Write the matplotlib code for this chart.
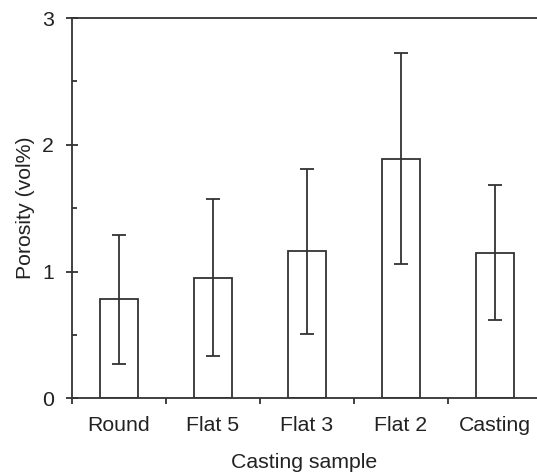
import matplotlib.pyplot as plt
import numpy as np

# porosity per casting sample
samples = ['Round', 'Flat 5', 'Flat 3', 'Flat 2', 'Casting']
porosity = [0.78, 0.95, 1.16, 1.89, 1.15]
porosity_err = [0.51, 0.62, 0.65, 0.83, 0.53]

plt.rcParams['font.family'] = ['Liberation Sans', 'DejaVu Sans']
ink = '#333333'
fs = 15.3

f = plt.figure(figsize=(5.37, 4.74), dpi=100)
ax = f.add_axes([72/537, 75.7/474, 465/537, 380.3/474])

x = np.arange(len(samples))
ax.bar(x, porosity, width=0.4, facecolor='white', edgecolor=ink, linewidth=1.3, zorder=2)
ax.errorbar(x, porosity, yerr=porosity_err, fmt='none', ecolor=ink, elinewidth=1.3,
			capsize=5, capthick=1.3, zorder=3)

ax.set_xlim(-0.5, -0.5 + 465/94)
ax.set_ylim(0, 3)

for s in ['left', 'top', 'bottom']:
	ax.spines[s].set_color(ink)
	ax.spines[s].set_linewidth(1.3)
ax.spines['right'].set_visible(False)

ax.set_xticks(x)
ax.set_xticklabels(samples)
ax.set_xticks(np.arange(-0.5, 4.5, 1), minor=True)
ax.tick_params(axis='x', which='major', length=0, pad=13, labelsize=fs, labelcolor='#222222')
ax.tick_params(axis='x', which='minor', direction='out', length=4.3, width=1.3, color=ink)

ax.set_yticks([0, 1, 2, 3])
ax.set_yticks([0.5, 1.5, 2.5], minor=True)
ax.tick_params(axis='y', which='major', direction='inout', length=8, width=1.3, color=ink,
			   pad=9, labelsize=fs, labelcolor='#222222')
ax.tick_params(axis='y', which='minor', direction='in', length=3.6, width=1.3, color=ink)

ax.set_xlabel('Casting sample', fontsize=fs, color='#222222', labelpad=13)
ax.set_ylabel('Porosity (vol%)', fontsize=fs, color='#222222', labelpad=5)

f.savefig('out.png', dpi=100)
